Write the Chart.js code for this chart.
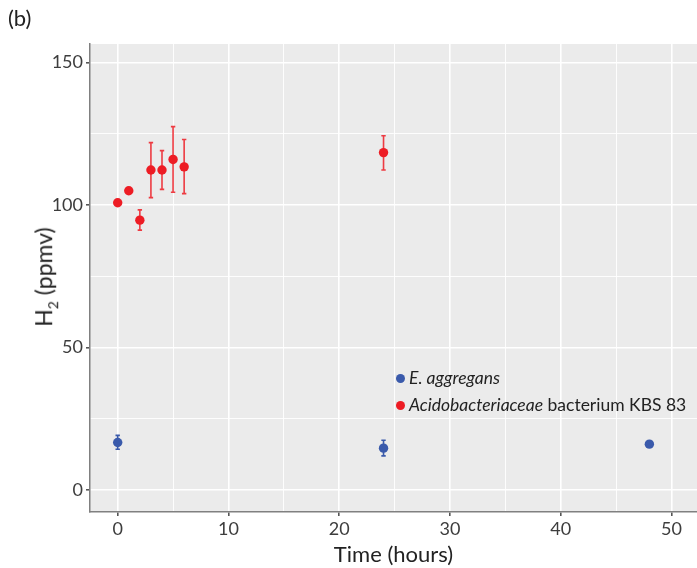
<!DOCTYPE html>
<html>
<head>
<meta charset="utf-8">
<script src="https://cdn.jsdelivr.net/npm/chart.js@4"></script>
<style>
body { margin: 0; background: #fff; font-family: Lato, "Open Sans", sans-serif; }
#wrap { position: relative; width: 697px; height: 568px; }
#h2Chart { display: block; }
#panelTag { position: absolute; left: 8px; top: 4px; font-size: 22px; color: #222; }
#yTitle { position: absolute; left: 45px; top: 277px; transform: translate(-50%, -50%) rotate(-90deg);
  font-size: 23px; color: #222; white-space: nowrap; }
#yTitle sub { font-size: 14px; }
.leg { position: absolute; left: 396px; font-size: 17.5px; color: #222; white-space: nowrap; }
.leg .dot { display: inline-block; width: 9px; height: 9px; border-radius: 50%; margin-right: 4px; vertical-align: 1px; }
</style>
</head>
<body>
<div id="wrap">
  <canvas id="h2Chart" width="697" height="568"></canvas>
  <div id="panelTag">(b)</div>
  <div id="yTitle">H<sub>2</sub> (ppmv)</div>
  <div class="leg" style="top:367px"><span class="dot" style="background:#3a5aab"></span><i>E. aggregans</i></div>
  <div class="leg" style="top:394px"><span class="dot" style="background:#ed1c24"></span><i>Acidobacteriaceae</i> bacterium KBS 83</div>
</div>
<script>
// E. aggregans
const aggTime = [0, 24, 48];
const aggH2 = [16.7, 14.7, 16.1];
const aggLow = [14.3, 12.0, 16.1];
const aggHigh = [19.2, 17.5, 16.1];

// Acidobacteriaceae bacterium KBS 83
const acidoTime = [0, 1, 2, 3, 4, 5, 6, 24];
const acidoH2 = [100.8, 105.0, 94.7, 112.3, 112.3, 116.0, 113.4, 118.4];
const acidoLow = [100.3, 104.5, 91.2, 102.6, 105.5, 104.5, 104.0, 112.3];
const acidoHigh = [101.3, 105.5, 98.3, 121.9, 119.1, 127.5, 123.0, 124.3];

const xTicks = [0, 5, 10, 15, 20, 25, 30, 35, 40, 45, 50];
const yTicks = [0, 25, 50, 75, 100, 125, 150];

const blue = "#3a5aab";
const red = "#ed1c24";

function toPoints(xs, ys) {
  return xs.map((x, i) => ({ x: x, y: ys[i] }));
}

// grey panel behind the plot
const panelBg = {
  id: "panelBg",
  beforeDraw(chart) {
    const a = chart.chartArea;
    const ctx = chart.ctx;
    ctx.save();
    ctx.fillStyle = "#ebebeb";
    ctx.fillRect(a.left, a.top, a.right - a.left, a.bottom - a.top);
    ctx.restore();
  }
};

// vertical error bars, drawn under the points
const errorBars = {
  id: "errorBars",
  beforeDatasetsDraw(chart) {
    const ctx = chart.ctx;
    const xs = chart.scales.x, ys = chart.scales.y;
    chart.data.datasets.forEach(ds => {
      ctx.save();
      ctx.strokeStyle = ds.barColor;
      ctx.lineWidth = 1.6;
      ds.data.forEach((p, i) => {
        const lo = ds.low[i], hi = ds.high[i];
        if (hi - lo < 2) return;
        const px = xs.getPixelForValue(p.x);
        const y1 = ys.getPixelForValue(lo), y2 = ys.getPixelForValue(hi);
        ctx.beginPath();
        ctx.moveTo(px, y1); ctx.lineTo(px, y2);
        ctx.moveTo(px - 2.2, y1); ctx.lineTo(px + 2.2, y1);
        ctx.moveTo(px - 2.2, y2); ctx.lineTo(px + 2.2, y2);
        ctx.stroke();
      });
      ctx.restore();
    });
  }
};

const tickFont = { family: "Lato", size: 18 };

new Chart(document.getElementById("h2Chart"), {
  type: "scatter",
  data: {
    datasets: [
      {
        label: "E. aggregans",
        data: toPoints(aggTime, aggH2),
        low: aggLow, high: aggHigh,
        backgroundColor: blue, borderColor: blue, barColor: blue,
        pointRadius: 4.7, borderWidth: 0
      },
      {
        label: "Acidobacteriaceae bacterium KBS 83",
        data: toPoints(acidoTime, acidoH2),
        low: acidoLow, high: acidoHigh,
        backgroundColor: red, borderColor: red, barColor: "rgba(237,28,36,0.85)",
        pointRadius: 4.7, borderWidth: 0
      }
    ]
  },
  options: {
    responsive: false,
    animation: false,
    layout: { autoPadding: false, padding: { top: 44, left: 0, right: 0, bottom: 0 } },
    plugins: { legend: { display: false }, tooltip: { enabled: false } },
    scales: {
      x: {
        type: "linear",
        min: -2.5, max: 52.3,
        afterBuildTicks: s => { s.ticks = xTicks.map(v => ({ value: v })); },
        afterFit: s => { s.height = 56; },
        ticks: {
          autoSkip: false, maxRotation: 0, padding: 2,
          font: tickFont, color: "#3d3d3d",
          callback: v => (v % 10 === 0 ? v : "")
        },
        grid: {
          color: "#ffffff",
          lineWidth: c => (c.tick && c.tick.value % 10 === 0 ? 1.6 : 0.9),
          tickColor: c => (c.tick && c.tick.value % 10 === 0 ? "#555" : "rgba(0,0,0,0)"),
          tickLength: 4
        },
        border: { color: "#808080", width: 1.5 },
        title: { display: true, text: "Time (hours)", font: { family: "Lato", size: 22 }, color: "#222", padding: { top: 0, bottom: 0 } }
      },
      y: {
        min: -7.7, max: 156.5,
        afterBuildTicks: s => { s.ticks = yTicks.map(v => ({ value: v })); },
        afterFit: s => { s.width = 90; },
        ticks: {
          autoSkip: false, padding: 3,
          font: tickFont, color: "#3d3d3d",
          callback: v => (v % 50 === 0 ? v : "")
        },
        grid: {
          color: "#ffffff",
          lineWidth: c => (c.tick && c.tick.value % 50 === 0 ? 1.6 : 0.9),
          tickColor: c => (c.tick && c.tick.value % 50 === 0 ? "#555" : "rgba(0,0,0,0)"),
          tickLength: 4
        },
        border: { color: "#808080", width: 1.5 }
      }
    }
  },
  plugins: [panelBg, errorBars]
});
</script>
</body>
</html>
